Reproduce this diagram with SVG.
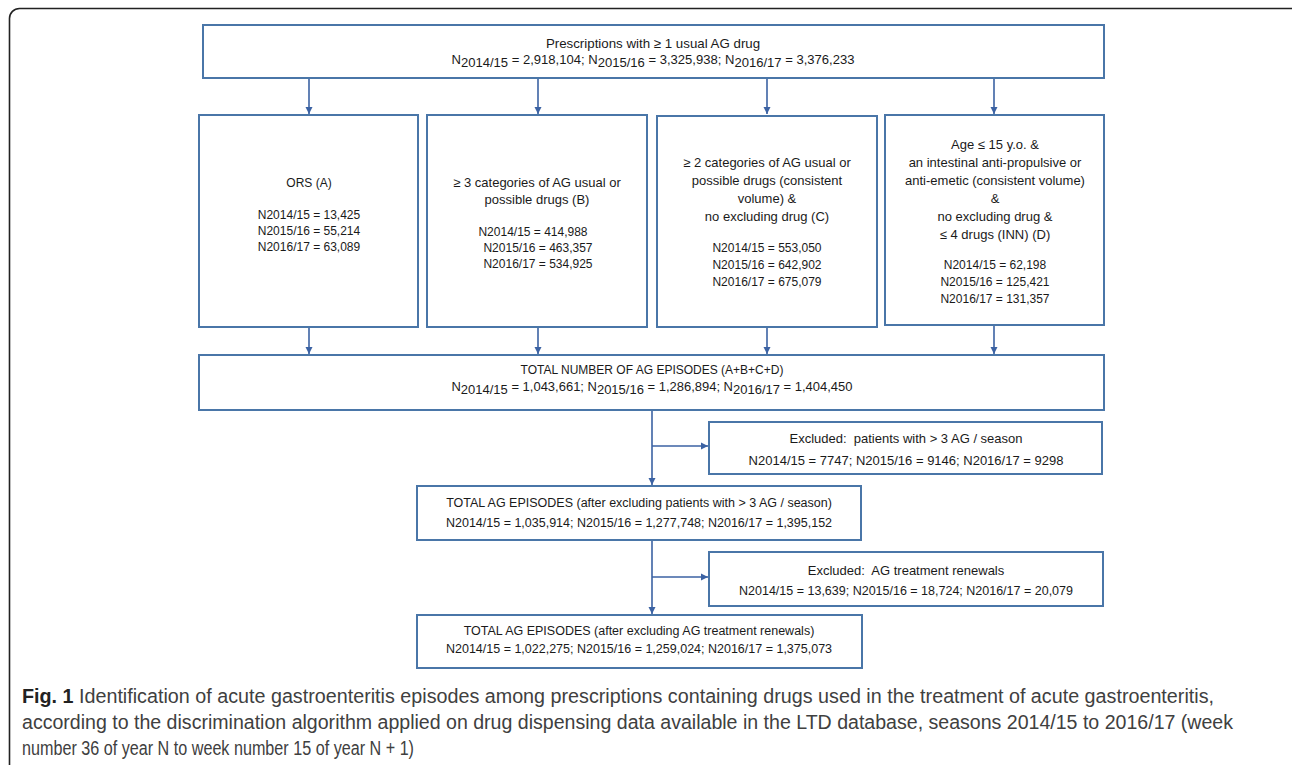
<svg xmlns="http://www.w3.org/2000/svg" width="1292" height="765" viewBox="0 0 1292 765">
<style>
.box{fill:#fff;stroke:#4a76a8;stroke-width:2}
.t{font-family:"Liberation Sans",Arial,sans-serif;font-size:12px;fill:#1a1a1a;text-anchor:middle}
.w{font-size:13px}
.b{font-size:12.5px}
.c{stroke:#3b62a3;stroke-width:1.6;fill:none}
.cap{font-family:"Liberation Sans Narrow","Liberation Sans",Arial,sans-serif;font-size:20px;fill:#404040}
</style>
<defs>
<marker id="ah" markerWidth="8" markerHeight="8" refX="7" refY="4" orient="auto" markerUnits="userSpaceOnUse">
<path d="M0,0.5 L7,4 L0,7.5 Z" fill="#3b62a3"/>
</marker>
</defs>
<rect x="9.5" y="8.5" width="1293" height="790" rx="10" fill="#fff" stroke="#222" stroke-width="1.6"/>

<g id="connectors">
<line class="c" x1="309" y1="79" x2="309" y2="114" marker-end="url(#ah)"/>
<line class="c" x1="538" y1="79" x2="538" y2="114" marker-end="url(#ah)"/>
<line class="c" x1="767" y1="79" x2="767" y2="114" marker-end="url(#ah)"/>
<line class="c" x1="994" y1="79" x2="994" y2="114" marker-end="url(#ah)"/>
<line class="c" x1="309" y1="328" x2="309" y2="354" marker-end="url(#ah)"/>
<line class="c" x1="538" y1="328" x2="538" y2="354" marker-end="url(#ah)"/>
<line class="c" x1="767" y1="328" x2="767" y2="354" marker-end="url(#ah)"/>
<line class="c" x1="994" y1="326" x2="994" y2="354" marker-end="url(#ah)"/>
<line class="c" x1="652" y1="411" x2="652" y2="485" marker-end="url(#ah)"/>
<line class="c" x1="652" y1="446" x2="708" y2="446" marker-end="url(#ah)"/>
<line class="c" x1="652" y1="541" x2="652" y2="614" marker-end="url(#ah)"/>
<line class="c" x1="652" y1="577" x2="708" y2="577" marker-end="url(#ah)"/>
</g>

<g id="top">
<rect class="box" x="203" y="25" width="901" height="53"/>
<text class="t" x="653" y="48" style="font-size:13.3px">Prescriptions with ≥ 1 usual AG drug</text>
<text class="t" x="653" y="64" textLength="403" lengthAdjust="spacingAndGlyphs">N<tspan dy="3">2014/15</tspan><tspan dy="-3"> = 2,918,104; N</tspan><tspan dy="3">2015/16</tspan><tspan dy="-3"> = 3,325,938; N</tspan><tspan dy="3">2016/17</tspan><tspan dy="-3"> = 3,376,233</tspan></text>
</g>

<g id="boxA">
<rect class="box" x="199" y="115" width="219" height="212"/>
<text class="t" x="309" y="187">ORS (A)</text>
<text class="t" x="309" y="219">N2014/15 = 13,425</text>
<text class="t" x="309" y="235">N2015/16 = 55,214</text>
<text class="t" x="309" y="251">N2016/17 = 63,089</text>
</g>

<g id="boxB">
<rect class="box" x="427" y="115" width="220" height="212"/>
<text class="t w" x="537" y="187">≥ 3 categories of AG usual or</text>
<text class="t w" x="537" y="204">possible drugs (B)</text>
<text class="t" x="533" y="236">N2014/15 = 414,988</text>
<text class="t" x="538" y="252">N2015/16 = 463,357</text>
<text class="t" x="538" y="268">N2016/17 = 534,925</text>
</g>

<g id="boxC">
<rect class="box" x="657" y="116" width="220" height="211"/>
<text class="t w" x="767" y="167">≥ 2 categories of AG usual or</text>
<text class="t w" x="767" y="185">possible drugs (consistent</text>
<text class="t w" x="767" y="203">volume) &amp;</text>
<text class="t w" x="767" y="221">no excluding drug (C)</text>
<text class="t" x="767" y="252">N2014/15 = 553,050</text>
<text class="t" x="767" y="269">N2015/16 = 642,902</text>
<text class="t" x="767" y="286">N2016/17 = 675,079</text>
</g>

<g id="boxD">
<rect class="box" x="885" y="115" width="219" height="210"/>
<text class="t w" x="995" y="149">Age ≤ 15 y.o. &amp;</text>
<text class="t w" x="995" y="167">an intestinal anti-propulsive or</text>
<text class="t w" x="995" y="185">anti-emetic (consistent volume)</text>
<text class="t w" x="995" y="203">&amp;</text>
<text class="t w" x="995" y="221">no excluding drug &amp;</text>
<text class="t w" x="995" y="239">≤ 4 drugs (INN) (D)</text>
<text class="t" x="995" y="269">N2014/15 = 62,198</text>
<text class="t" x="995" y="286">N2015/16 = 125,421</text>
<text class="t" x="995" y="303">N2016/17 = 131,357</text>
</g>

<g id="total">
<rect class="box" x="199" y="355" width="905" height="55"/>
<text class="t" x="652" y="374">TOTAL NUMBER OF AG EPISODES (A+B+C+D)</text>
<text class="t" x="652" y="391" textLength="401" lengthAdjust="spacingAndGlyphs">N<tspan dy="3">2014/15</tspan><tspan dy="-3"> = 1,043,661; N</tspan><tspan dy="3">2015/16</tspan><tspan dy="-3"> = 1,286,894; N</tspan><tspan dy="3">2016/17</tspan><tspan dy="-3"> = 1,404,450</tspan></text>
</g>

<g id="excluded1">
<rect class="box" x="709" y="422" width="393" height="52"/>
<text class="t w" x="906" y="443">Excluded:&#160; patients with &gt; 3 AG / season</text>
<text class="t w" x="906" y="465">N2014/15 = 7747; N2015/16 = 9146; N2016/17 = 9298</text>
</g>

<g id="total2">
<rect class="box" x="417" y="486" width="444" height="54"/>
<text class="t b" x="639" y="507">TOTAL AG EPISODES (after excluding patients with &gt; 3 AG / season)</text>
<text class="t b" x="639" y="527">N2014/15 = 1,035,914; N2015/16 = 1,277,748; N2016/17 = 1,395,152</text>
</g>

<g id="excluded2">
<rect class="box" x="709" y="552" width="394" height="54"/>
<text class="t w" x="906" y="575">Excluded:&#160; AG treatment renewals</text>
<text class="t b" x="906" y="595">N2014/15 = 13,639; N2015/16 = 18,724; N2016/17 = 20,079</text>
</g>

<g id="final">
<rect class="box" x="417" y="615" width="445" height="53"/>
<text class="t b" x="639" y="635">TOTAL AG EPISODES (after excluding AG treatment renewals)</text>
<text class="t b" x="639" y="653">N2014/15 = 1,022,275; N2015/16 = 1,259,024; N2016/17 = 1,375,073</text>
</g>

<g id="caption">
<text class="cap" x="22" y="703" textLength="1192" lengthAdjust="spacingAndGlyphs"><tspan font-weight="bold" fill="#222">Fig. 1</tspan> Identification of acute gastroenteritis episodes among prescriptions containing drugs used in the treatment of acute gastroenteritis,</text>
<text class="cap" x="22" y="729" textLength="1211" lengthAdjust="spacingAndGlyphs">according to the discrimination algorithm applied on drug dispensing data available in the LTD database, seasons 2014/15 to 2016/17 (week</text>
<text class="cap" x="22" y="755" textLength="392" lengthAdjust="spacingAndGlyphs">number 36 of year N to week number 15 of year N + 1)</text>
</g>
</svg>
